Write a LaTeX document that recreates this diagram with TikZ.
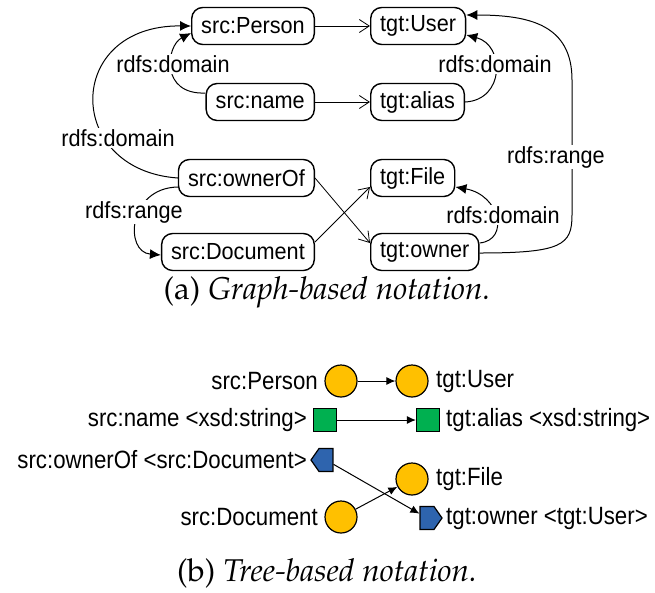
\documentclass[tikz,border=0pt]{standalone}
\usepackage{fontspec}
\newfontfamily\labfont[FakeStretch=0.93]{Liberation Sans}
\newfontfamily\labfontb[FakeStretch=0.89]{Liberation Sans}
\usetikzlibrary{arrows.meta,shapes.symbols,calc}
\newcommand\capfont{\fontencoding{OT1}\fontfamily{ppl}\selectfont}
\definecolor{cyel}{HTML}{FFC000}
\definecolor{cgrn}{HTML}{00B050}
\definecolor{cblu}{HTML}{2E64AE}
\begin{document}
\begin{tikzpicture}[x=1pt,y=-1pt,
  txt/.style={font={\labfont\fontsize{23.3}{26}\selectfont}},
  box/.style={txt, draw, line width=1.4pt, rounded corners=11pt, minimum height=37pt, inner xsep=9.5pt},
  lbl/.style={txt, fill=white, inner sep=1pt},
  map/.style={line width=0.8pt, -{Straight Barb[length=10pt,width=13pt]}},
  dom/.style={line width=1pt, -{Latex[length=11pt,width=10pt]}},
  cls/.style={circle, draw, line width=1.2pt, fill=cyel, minimum size=32pt, inner sep=0pt},
  att/.style={rectangle, draw, line width=1.2pt, fill=cgrn, minimum size=23pt, inner sep=0pt},
  rel/.style={signal, draw, line width=1.2pt, fill=cblu, minimum width=22pt, minimum height=23pt, inner sep=0pt, signal pointer angle=110},
  tarrow/.style={line width=1pt, -{Latex[length=9pt,width=8pt]}},
  tlab/.style={font={\labfontb\fontsize{25}{28}\selectfont}, inner sep=0pt},
  captext/.style={font={\capfont\fontsize{31.5}{36}\selectfont}, inner sep=0pt}]
\path[use as bounding box] (0,0) rectangle (655,592);

% ---------- (a) graph-based ----------
\node[box, anchor=east] (sPerson) at (315,26) {src:Person};
\node[box, anchor=west] (tUser) at (370,26) {tgt:User};
\node[box, anchor=east] (sName) at (315,102) {src:name};
\node[box, anchor=west] (tAlias) at (370,102) {tgt:alias};
\node[box, anchor=east] (sOwnerOf) at (315,178) {src:ownerOf};
\node[box, anchor=west] (tFile) at (370,178) {tgt:File};
\node[box, anchor=east] (sDoc) at (315,252) {src:Document};
\node[box, anchor=west] (tOwner) at (370,252) {tgt:owner};

\draw[map] (sPerson.east) -- (tUser.west);
\draw[map] (sName.east) -- (tAlias.west);
\draw[map] (sOwnerOf.east) -- ($(tOwner.west)+(0,-9)$);
\draw[map] ($(sDoc.east)+(0,-10)$) -- ($(tFile.west)+(0,9)$);

\draw[dom] (sOwnerOf.west) .. controls (64,170) and (64,25) .. (sPerson.west);
\draw[dom] ($(sName.west)+(0,-9)$) .. controls (160,95) and (166,46) .. ($(sPerson.west)+(0,7)$);
\draw[dom] ($(sOwnerOf.west)+(0,9)$) .. controls (128,188) and (124,252) .. ($(sDoc.west)+(0,3)$);
\draw[dom] (tAlias.east) .. controls (505,100) and (505,45) .. ($(tUser.east)+(0,9)$);
\draw[dom] ($(tOwner.east)+(0,-9)$) .. controls (510,240) and (500,195) .. ($(tFile.east)+(0,9)$);
\draw[dom] ($(tOwner.east)+(0,1)$) .. controls (562,253) and (572,245) .. (572,215)
   -- (572,80) .. controls (572,25) and (530,15) .. ($(tUser.east)+(0,-11)$);

\node[lbl] (l1) at (118,138) {rdfs:domain};
\node[lbl] (l2) at (173,64) {rdfs:domain};
\node[lbl] (l3) at (134,212) {rdfs:range};
\node[lbl] (l4) at (495,64) {rdfs:domain};
\node[lbl] (l5) at (503,215) {rdfs:domain};
\node[lbl] (l6) at (556,157) {rdfs:range};

\node[captext] (capa) at (327,292) {(a) \itshape Graph-based notation.};

% ---------- (b) tree-based ----------
\node[cls] (bsPerson) at (341,381) {};
\node[cls] (btUser) at (412,381) {};
\node[att] (bsName) at (325,420) {};
\node[att] (btAlias) at (428,420) {};
\node[rel, signal to=west] (bsOwnerOf) at (326,460) {};
\node[cls] (btFile) at (412,479) {};
\node[cls] (bsDoc) at (341,517) {};
\node[rel, signal to=east] (btOwner) at (427,518) {};

\draw[tarrow] (bsPerson) -- (btUser);
\draw[tarrow] (bsName) -- (btAlias);
\draw[tarrow] (bsOwnerOf) -- (btOwner);
\draw[tarrow] (bsDoc) -- (btFile);

\node[tlab, anchor=east] (tx1) at (318,381) {src:Person};
\node[tlab, anchor=west] (tx2) at (436,381) {tgt:User};
\node[tlab, anchor=east] (tx3) at (307,420) {src:name <xsd:string>};
\node[tlab, anchor=west] (tx4) at (446,420) {tgt:alias <xsd:string>};
\node[tlab, anchor=east] (tx5) at (307,460) {src:ownerOf <src:Document>};
\node[tlab, anchor=west] (tx6) at (436,479) {tgt:File};
\node[tlab, anchor=east] (tx7) at (318,517) {src:Document};
\node[tlab, anchor=west] (tx8) at (446,518) {tgt:owner <tgt:User>};

\node[captext] (capb) at (327,573) {(b) \itshape Tree-based notation.};
\end{tikzpicture}
\end{document}
